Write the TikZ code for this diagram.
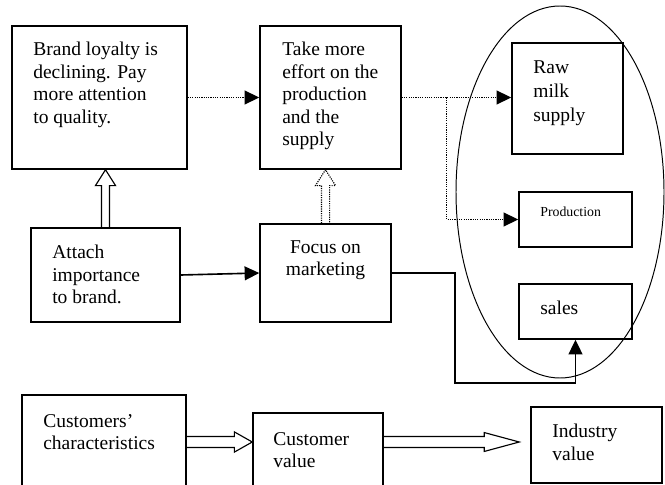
\documentclass[tikz,border=0pt]{standalone}
\usepackage{fontspec}
\setmainfont{Liberation Serif}
\usetikzlibrary{arrows.meta, calc}
\newcommand{\pxu}{0.615pt}

\begin{document}
\begin{tikzpicture}[
    x=\pxu, y=-\pxu,
    >={Triangle[length=9pt, width=8.5pt]},
    font=\fontsize{12}{13.8}\selectfont,
    card/.style={draw, line width=0.9pt, inner sep=0pt},
    txt/.style={anchor=north west, inner sep=0pt, align=left},
    dotline/.style={->, line width=0.8pt, dash pattern=on 0.7pt off 0.7pt},
    solidline/.style={->, line width=1pt},
    hollow/.style n args={3}{line width=0.7pt, to path={
        ($(\tikztotarget)!#3!(\tikztostart)$) coordinate (hb)
        ($(\tikztostart)!#1!90:(\tikztotarget)$) -- ($(hb)!#1!90:(\tikztotarget)$)
        -- ($(hb)!#2!90:(\tikztotarget)$) -- (\tikztotarget)
        -- ($(hb)!#2!-90:(\tikztotarget)$) -- ($(hb)!#1!-90:(\tikztotarget)$)
        -- ($(\tikztostart)!#1!-90:(\tikztotarget)$)}}
]
    \clip (0,0) rectangle (665,485);

    % upper part
    \node[card, minimum width=175*\pxu, minimum height=143*\pxu] (loy) at (99.5,97.5) {};
    \node[txt] (loytxt) at (33,42) {Brand loyalty is\\declining. Pay\\more attention\\to quality.};
    \node[card, minimum width=141*\pxu, minimum height=143*\pxu] (eff) at (330.5,97.5) {};
    \node[txt] (efftxt) at (282,42) {Take more\\effort on the\\production\\and the\\supply};
    \node[card, minimum width=149*\pxu, minimum height=94*\pxu] (att) at (105.5,275) {};
    \node[txt] (atttxt) at (52,245) {Attach\\importance\\to brand.};
    \node[card, minimum width=131*\pxu, minimum height=98*\pxu] (foc) at (325.5,273) {};
    \node[txt, anchor=north, align=center] (foctxt) at (325.5,240) {Focus on\\marketing};

    % industry chain
    \draw[line width=0.6pt] (560,192) ellipse [x radius=104, y radius=186];
    \node[card, minimum width=111*\pxu, minimum height=111*\pxu] (raw) at (567.5,98.5) {};
    \node[txt, font=\fontsize{12}{15}\selectfont] (rawtxt) at (533,60) {Raw\\milk\\supply};
    \node[card, minimum width=113*\pxu, minimum height=55*\pxu] (prd) at (575.5,219.5) {};
    \node[txt, font=\fontsize{8.5}{10}\selectfont] (prdtxt) at (540,207) {Production};
    \node[card, minimum width=113*\pxu, minimum height=55*\pxu] (sal) at (575.5,311.5) {};
    \node[txt] (saltxt) at (540,301) {sales};

    \draw[dotline] (loy.east) -- (eff.west);
    \draw[dotline] (eff.east) -- (eff.east -| raw.west);
    \coordinate (fork) at ($(eff.east)+(45,0)$);
    \draw[dotline] (fork) |- (prd.west);
    \draw[solidline] (att.east) -- (foc.west);
    \draw[solidline] (foc.east) -- ++(63,0) |- ($(sal.south)+(0,43)$) -- (sal.south);
    \draw[hollow={2.5pt}{6.2pt}{9.8pt}] (att.north) to (att.north |- loy.south);
    \draw[hollow={2.5pt}{6.2pt}{9.8pt}, dash pattern=on 0.7pt off 0.7pt] (foc.north) to (foc.north |- eff.south);

    % value row
    \node[card, minimum width=164*\pxu, minimum height=94*\pxu] (cus) at (104,442) {};
    \node[txt] (custxt) at (43,414) {Customers'\\characteristics};
    \node[card, minimum width=130*\pxu, minimum height=107*\pxu] (cvl) at (318,466.5) {};
    \node[txt] (cvltxt) at (273,432) {Customer\\value};
    \node[card, minimum width=131*\pxu, minimum height=76*\pxu] (ind) at (596.5,445) {};
    \node[txt] (indtxt) at (552,424) {Industry\\value};

    \draw[hollow={3.4pt}{6.2pt}{11pt}] (cus.east) to (cus.east -| cvl.west);
    \coordinate (tip) at ($(ind.west)+(-11,-3)$);
    \draw[hollow={3.4pt}{5.8pt}{21.5pt}] (cvl.east |- tip) to (tip);
\end{tikzpicture}
\end{document}
